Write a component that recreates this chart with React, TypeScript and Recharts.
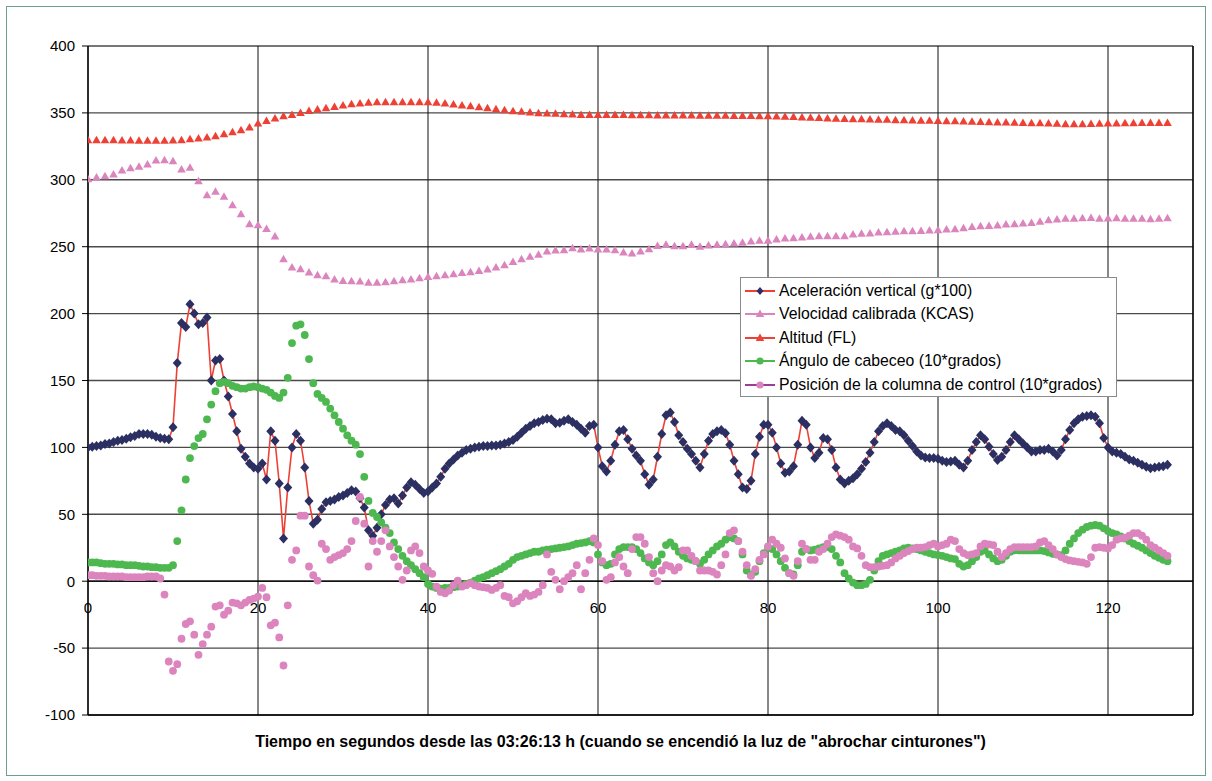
import { ScatterChart, Scatter, XAxis, YAxis, CartesianGrid, ReferenceLine } from 'recharts'

// dense series are logged every half second, altitude and speed every second
const STEP = 0.5

// Aceleración vertical (g*100)
const ACCEL = [
    100, 100.5, 101, 101.5, 102.5, 103, 104, 105, 105.5, 106.5, 107.5, 108.5, 110, 110, 110, 109.5, 108, 107, 106.5, 106,
    115, 163, 193, 190, 207, 200, 192, 193, 197, 150, 165, 166, 150, 138, 125, 112, 99, 93, 88, 85,
    84, 88, 76, 112, 105, 73, 32, 70, 100, 110, 105, 85, 60, 43, 46, 54, 59, 60, 61, 63,
    64, 66, 68, 67, 62, 55, 38, 34, 40, 50, 57, 61, 62, 58, 64, 70, 74, 72, 69, 66,
    67, 70, 73, 78, 84, 88, 91, 94, 96, 98, 99, 100, 100.5, 101, 101, 101.5, 101.5, 102, 103, 104,
    105.5, 108, 111, 114, 116, 118, 119, 120.5, 121.5, 121, 118, 118.5, 120, 121, 119, 117, 114, 111, 116, 117,
    100, 86, 82, 90, 102, 112, 113, 106, 99, 94, 90, 80, 72, 76, 93, 110, 124, 126, 119, 109,
    104, 99, 95, 90, 85, 95, 105, 110, 112, 113, 110.5, 102, 90, 80, 70, 69, 75, 95, 108, 117,
    117, 111, 100, 88, 81, 82, 86, 102, 120, 117, 100, 92, 96, 107, 106, 98, 85, 76, 73, 75,
    77, 80, 84, 89, 96, 104, 112, 116, 118, 116, 113, 112, 109, 105, 101, 97, 94, 92.5, 92, 92,
    91.5, 90, 89, 89.5, 90, 87, 85, 90, 98, 104, 109, 106, 100.5, 95, 90.5, 93, 98, 104, 109, 106,
    103, 100, 97, 97, 98, 98, 99, 97, 94, 98, 106, 113, 118, 121, 123, 123.5, 124, 123, 118, 107,
    100, 97, 96, 95, 93, 91, 90, 88.5, 87, 85.5, 84.5, 85, 85.5, 86, 87,
]

// Ángulo de cabeceo (10*grados)
const PITCH = [
    14, 14, 14, 13.5, 13, 13, 13, 12.5, 12.5, 12, 12, 12, 11.5, 11, 11, 10.5, 10.5, 10, 10, 10,
    12, 30, 53, 76, 92, 101, 107, 110, 121, 132, 142, 148, 149, 148, 146, 145, 144, 144, 145, 145.5,
    145, 144, 143, 141, 138.5, 137, 141, 152, 178, 191, 192, 184, 166, 148, 140, 137, 134, 129, 124, 119,
    114, 109, 105, 102, 95, 78, 60, 51, 48, 44, 40, 36, 29, 24, 19, 15, 12, 9, 6, 3,
    -2, -4, -5, -5.5, -5, -5, -4.5, -4, -3, -2, -1, 0.5, 2, 3, 4.5, 6, 7.5, 9, 11, 13,
    16, 18, 19, 20, 21, 22, 22, 23, 23.5, 24, 24.5, 25, 25.5, 26, 27, 28, 28.5, 29, 30, 29,
    20, 14, 12, 13, 20, 24, 25.5, 25.5, 25.5, 24, 21, 17, 14, 12, 15, 20, 27, 29, 26, 22,
    19, 17, 16, 15, 13, 16, 20, 23, 26, 28, 31, 33, 32, 30, 20, 8, 4.5, 7, 15, 21,
    25, 24, 20, 15, 10, 6, 5, 12, 22, 24, 23, 23.5, 24.5, 25.5, 25.5, 24, 19, 14, 6, 2,
    -1, -3, -3, -2, 1, 8, 15, 19, 20, 21, 22, 23, 24.5, 25, 24.5, 24, 23, 22, 21, 20,
    19.5, 19, 18, 17, 16.5, 13, 11, 12, 15, 18, 22, 23, 20, 17, 15, 16, 19, 22, 23, 23,
    23, 23, 23, 23, 23, 22.5, 21.5, 20.5, 20, 19.5, 23, 28, 32, 36, 38.5, 40.5, 41.5, 42, 41.5, 39.5,
    37.5, 36, 35, 33.5, 32, 30, 28, 26.5, 25, 23, 21, 19, 17.5, 16, 15,
]

// Posición de la columna de control (10*grados)
const COLUMN = [
    4.5, 4.5, 4, 4, 4, 3.5, 3.5, 3.5, 3.5, 3, 3, 3, 3, 3, 3.5, 3.5, 3.5, 2, -10, -60,
    -67, -62, -43, -32, -30, -40, -55, -47, -40, -34, -19, -18, -25, -22, -16, -16.5, -18, -16, -14, -13,
    -11.5, -5, -12, -33, -31, -42, -63, -18, 16, 23, 49, 49, 11, 4.5, 0.5, 28, 24, 16, 18, 19.5,
    21, 24, 30, 45, 63, 43, 11, 30, 22, 30, 38, 26, 18, 11, 1, 8, 23, 26, 21, 11,
    8, 5.5, -4, -8, -9, -7, -3, 0.5, -4, -3, -1.5, -3, -4, -4.5, -5, -6.5, -5, -3, -11, -12,
    -16.5, -15, -12, -9, -11, -10, -8, -3, 20, 7, 1, -6, 0, 3, 6, 12, -6, 6, 16, 32,
    27, 15, 1, 3, 14, 18, 11, 6, 24, 33, 33, 28, 18, 6, 0, 8, 12, 11, 8, 10.5,
    23, 23, 19, 15, 8, 8, 8, 7, 5, 12, 20, 36, 38, 30, 22, 12, 4, 9, 16, 20,
    26, 31, 28, 25, 17, 6, 4, 15, 28, 24, 16, 16, 22, 24, 28, 33, 35, 34, 33, 31,
    26, 24.5, 19, 12, 10.5, 10.5, 11, 11.5, 12, 14, 17, 19, 21, 22.5, 24, 25, 25, 25.5, 27, 28,
    26, 27, 28, 31, 30, 24, 21, 19.5, 20, 21, 26, 28, 27.5, 27, 22, 18, 21, 24, 25.5, 25.5,
    25.5, 25.5, 25.5, 26, 29, 30, 27, 24, 20, 18, 16.5, 15.5, 15, 14.5, 14, 13, 18, 25, 25.5, 25,
    24.5, 27, 31, 32, 32.5, 34, 36, 36, 34, 31, 27, 25, 23, 21, 19,
]

// Altitud (FL), one value per second
const ALTITUDE = [
    329.6, 329.6, 329.6, 329.6, 329.4, 329.4, 329.1, 329.1, 329.1, 329.1,
    329.4, 329.6, 330.3, 330.8, 331.6, 332.6, 334.1, 335.6, 337.1, 339.1,
    342.1, 344, 345.8, 347.5, 348.5, 350, 351.5, 352.5, 353.5, 354.5,
    355.5, 356.5, 357, 357.5, 358, 358, 358, 358, 358, 358,
    358, 357.5, 357, 356.3, 355.5, 355, 354.3, 353.5, 352.8, 352,
    351.3, 350.8, 350.3, 349.8, 349.5, 349.3, 349, 348.8, 348.5, 348.5,
    348.5, 348.5, 348.4, 348.4, 348.3, 348.3, 348.2, 348.1, 348.1, 348,
    348, 348, 347.9, 347.8, 347.8, 347.8, 347.7, 347.6, 347.6, 347.5,
    347.5, 347.3, 347.2, 347, 346.5, 346.3, 346.1, 345.9, 345.7, 345.5,
    345.3, 345.2, 345.1, 344.9, 344.8, 344.6, 344.5, 344.3, 344.2, 344.1,
    344, 343.8, 343.7, 343.5, 343.4, 343.2, 343.1, 342.9, 342.8, 342.6,
    342.5, 342.3, 342.2, 342, 341.8, 341.6, 341.5, 341.6, 341.7, 341.8,
    342, 342.1, 342.2, 342.3, 342.4, 342.5, 342.5, 342.5,
]

// Velocidad calibrada (KCAS), one value per second
const SPEED = [
    300.4, 301.7, 302.7, 304, 307, 308.7, 309.7, 311.4, 314.4, 314.6,
    313.9, 307.7, 309, 299, 288.5, 291, 287.3, 281, 274.3, 266.8,
    266, 263.3, 257.6, 240.6, 234.4, 233.2, 230.7, 228.7, 228, 225.5,
    224.4, 224.2, 224, 223, 223, 223.5, 224.2, 225, 225.5, 226.5,
    227.4, 228, 228.7, 229.4, 230.4, 230.9, 231.9, 232.9, 234.4, 236.2,
    238.6, 240.7, 242.4, 243.9, 246.4, 247.1, 247.4, 248.9, 247.9, 248.6,
    247.9, 247.9, 247.4, 245.7, 244.9, 246.4, 248.1, 250.6, 251.4, 250.4,
    250.4, 251.4, 249.9, 250.9, 251.4, 251.9, 252.4, 252.9, 253.9, 254.4,
    254.4, 255.4, 256.1, 256.4, 256.9, 257.4, 257.8, 257.8, 257.8, 257.8,
    259.1, 259.6, 259.8, 260.6, 260.8, 261.1, 261.6, 261.6, 261.8, 262.1,
    262.3, 262.8, 263.1, 263.8, 264.8, 265.3, 265.5, 265.8, 266.6, 266.8,
    267.3, 267.8, 268.6, 269.8, 270.3, 270.8, 270.8, 271.3, 271.5, 270.8,
    271.1, 271.3, 270.8, 270.8, 270.8, 270.6, 270.8, 271.3,
]

const X_TICKS = [0, 20, 40, 60, 80, 100, 120]
const Y_TICKS = [-100, -50, 0, 50, 100, 150, 200, 250, 300, 350, 400]

const X_TITLE = 'Tiempo en segundos desde las 03:26:13 h (cuando se encendió la luz de "abrochar cinturones")'

const NAVY = '#2c2f61'
const RED = '#ee4136'
const PINK = '#dc84bd'
const GREEN = '#4db84f'
const PURPLE = '#993d96'

const FONT = '"Liberation Sans", Arial, sans-serif'

// plot box in page pixels
const PLOT_TOP = 46
const PLOT_H = 669
const ZERO_Y = PLOT_TOP + PLOT_H * (400 / 500)

const toPoints = (vals: number[], step: number) => vals.map((v, i) => ({ t: i * step, v }))

const diamond = (fill: string) => (p: any) => (
    <path d={`M${p.cx},${p.cy - 5}L${p.cx + 4.5},${p.cy}L${p.cx},${p.cy + 5}L${p.cx - 4.5},${p.cy}Z`} fill={fill} />
)
const triangle = (fill: string) => (p: any) => (
    <path d={`M${p.cx},${p.cy - 4.5}L${p.cx + 4.3},${p.cy + 3}L${p.cx - 4.3},${p.cy + 3}Z`} fill={fill} />
)
const dot = (fill: string) => (p: any) => <circle cx={p.cx} cy={p.cy} r={3.9} fill={fill} />

function XTick({ x, payload }: any) {
    return (
        <text x={x} y={ZERO_Y + 32} textAnchor="middle" fontSize={15} fontFamily={FONT} fill="#000">
            {payload.value}
        </text>
    )
}

const LEGEND = [
    { label: 'Aceleración vertical (g*100)', line: RED, marker: 'diamond', fill: NAVY },
    { label: 'Velocidad calibrada (KCAS)', line: PINK, marker: 'triangle', fill: PINK },
    { label: 'Altitud (FL)', line: RED, marker: 'triangle', fill: RED },
    { label: 'Ángulo de cabeceo (10*grados)', line: GREEN, marker: 'circle', fill: GREEN },
    { label: 'Posición de la columna de control (10*grados)', line: PURPLE, marker: 'circle', fill: PINK },
]

function LegendBox() {
    return (
        <div style={{
            position: 'absolute', left: 740, top: 277, width: 377, height: 120,
            border: '1px solid #8a8a8a', background: '#fff', fontFamily: FONT, fontSize: 15.8,
            paddingTop: 1, boxSizing: 'border-box',
        }}>
            {LEGEND.map(item => (
                <div key={item.label} style={{ display: 'flex', alignItems: 'center', height: 23.5 }}>
                    <svg width={38} height={14} style={{ flex: 'none' }}>
                        <line x1={4} y1={7} x2={34} y2={7} stroke={item.line} strokeWidth={2} />
                        {item.marker === 'diamond' && <path d="M19,3L22.5,7L19,11L15.5,7Z" fill={item.fill} />}
                        {item.marker === 'triangle' && <path d="M19,2.5L23.3,10L14.7,10Z" fill={item.fill} />}
                        {item.marker === 'circle' && <circle cx={19} cy={7} r={3.6} fill={item.fill} />}
                    </svg>
                    <span style={{ whiteSpace: 'nowrap' }}>{item.label}</span>
                </div>
            ))}
        </div>
    )
}

export default function App() {
    const accel = toPoints(ACCEL, STEP)
    const pitch = toPoints(PITCH, STEP)
    const column = toPoints(COLUMN, STEP)
    const altitude = toPoints(ALTITUDE, 1)
    const speed = toPoints(SPEED, 1)

    return (
        <div style={{ position: 'absolute', left: 0, top: 0, width: 1212, height: 781, background: '#fff' }}>
            <div style={{
                position: 'absolute', left: 6, top: 6, width: 1200, height: 770,
                border: '1.5px solid #6c9f8c', boxSizing: 'border-box',
            }} />
            <div style={{ position: 'absolute', left: 0, top: 0 }}>
                <ScatterChart width={1212} height={781} margin={{ top: PLOT_TOP, right: 19, bottom: 36, left: 28 }}>
                    <CartesianGrid horizontal={true} vertical={false} stroke="#4a4a4a" strokeWidth={1.4} />
                    <CartesianGrid horizontal={false} vertical={true} stroke="#111" strokeWidth={1} />
                    <XAxis
                        type="number"
                        dataKey="t"
                        domain={[0, 130]}
                        ticks={X_TICKS}
                        interval={0}
                        height={30}
                        axisLine={{ stroke: '#000', strokeWidth: 1.3 }}
                        tickLine={false}
                        tick={<XTick />}
                        allowDataOverflow
                        label={{ value: X_TITLE, position: 'insideBottom', offset: -2, dx: -20, fontSize: 16, fontWeight: 'bold', fontFamily: FONT, fill: '#000' }}
                    />
                    <YAxis
                        type="number"
                        dataKey="v"
                        domain={[-100, 400]}
                        ticks={Y_TICKS}
                        interval={0}
                        width={60}
                        axisLine={{ stroke: '#000', strokeWidth: 1.3 }}
                        tickLine={{ stroke: '#000' }}
                        tickSize={6}
                        tickMargin={7}
                        tick={{ fontSize: 15, fontFamily: FONT, fill: '#000' }}
                        allowDataOverflow
                    />
                    <ReferenceLine y={0} stroke="#000" strokeWidth={1.3} />
                    <ReferenceLine x={130} stroke="#000" strokeWidth={1.3} />

                    <Scatter data={accel} line={{ stroke: RED, strokeWidth: 1.6 }} lineType="joint" shape={diamond(NAVY)} isAnimationActive={false} />
                    <Scatter data={speed} shape={triangle(PINK)} isAnimationActive={false} />
                    <Scatter data={altitude} shape={triangle(RED)} isAnimationActive={false} />
                    <Scatter data={pitch} shape={dot(GREEN)} isAnimationActive={false} />
                    <Scatter data={column} shape={dot(PINK)} isAnimationActive={false} />
                </ScatterChart>
            </div>
            <LegendBox />
        </div>
    )
}
